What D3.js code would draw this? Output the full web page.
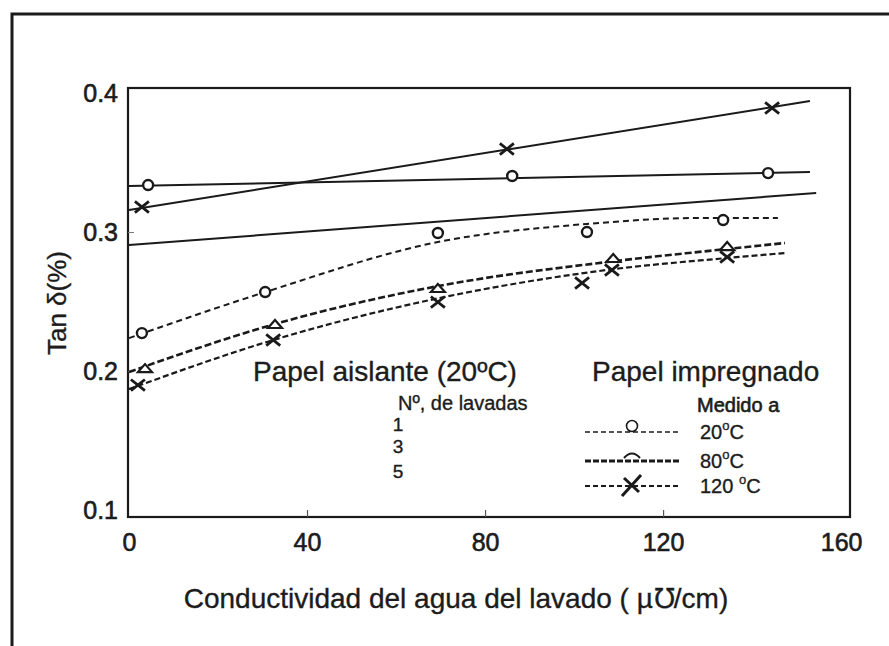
<!DOCTYPE html>
<html>
<head>
<meta charset="utf-8">
<script src="https://cdn.jsdelivr.net/npm/d3@7"></script>
<style>
  body { margin: 0; background: #fff; }
  svg { display: block; }
  text { font-family: "Liberation Sans", Arial, Helvetica, sans-serif; fill: #1c1c1c; }
  .heavy { stroke: #1c1c1c; stroke-width: 0.6px; }
  .medium { stroke: #1c1c1c; stroke-width: 0.35px; }
</style>
</head>
<body>
<svg id="chart" width="889" height="646"></svg>
<script>
// ---- Data: tan δ (%) versus conductivity of the wash water (µ℧/cm) ----

// Papel aislante (20ºC): straight trend lines and their measured points
const aislanteCirculosLinea  = [[0, 0.3331], [153.0, 0.3432]];
const aislanteCirculosPuntos = [[4.3, 0.3338], [86.1, 0.3403], [143.6, 0.3424]];
const aislanteCrucesLinea    = [[0, 0.3158], [153.0, 0.3942]];
const aislanteCrucesPuntos   = [[2.9, 0.3180], [84.9, 0.3597], [144.5, 0.3892]];
const aislanteLisoLinea      = [[0, 0.2906], [154.4, 0.3281]];

// Papel impregnado, medido a 20 / 80 / 120 ºC: fitted curves and measured points
const impregnado20Curva   = [[0, 0.2237], [30.6, 0.2568], [69.4, 0.2928], [102.9, 0.3058], [128.3, 0.3101], [145.8, 0.3101]];
const impregnado20Puntos  = [[2.9, 0.2273], [30.6, 0.2568], [69.4, 0.2993], [102.9, 0.3000], [133.5, 0.3086]];
const impregnado80Curva   = [[0, 0.1993], [32.8, 0.2338], [70.8, 0.2619], [107.4, 0.2784], [134.4, 0.2878], [147.4, 0.2921]];
const impregnado80Puntos  = [[3.6, 0.2014], [32.8, 0.2331], [69.4, 0.2590], [108.8, 0.2806], [134.4, 0.2892]];
const impregnado120Curva  = [[0, 0.1870], [32.4, 0.2223], [70.8, 0.2532], [107.4, 0.2727], [134.4, 0.2813], [147.4, 0.2849]];
const impregnado120Puntos = [[2.0, 0.1899], [32.4, 0.2223], [69.4, 0.2496], [101.8, 0.2633], [108.5, 0.2727], [134.4, 0.2820]];

// Axis ticks
const xTicks = [0, 40, 80, 120, 160];
const yTicks = [0.1, 0.2, 0.3, 0.4];

// Legend texts
const tituloAislante      = "Papel aislante (20ºC)";
const subtituloAislante   = "Nº, de lavadas";
const lavadas             = ["1", "3", "5"];
const tituloImpregnado    = "Papel impregnado";
const subtituloImpregnado = "Medido a";
const temperaturas        = ["20", "80", "120"];

// ---- Drawing ----
const svg = d3.select("#chart");
const box = { left: 128, right: 850, top: 88, bottom: 517 };

const x = d3.scaleLinear().domain([0, 162]).range([129, box.right]);
const y = d3.scaleLinear().domain([0.095, 0.4036]).range([box.bottom, box.top]);

// outer frame of the figure
svg.append("rect")
  .attr("x", 12).attr("y", 14).attr("width", 920).attr("height", 700)
  .attr("fill", "none").attr("stroke", "#1a1a1a").attr("stroke-width", 3);

// plot frame
svg.append("rect")
  .attr("x", box.left).attr("y", box.top)
  .attr("width", box.right - box.left).attr("height", box.bottom - box.top)
  .attr("fill", "none").attr("stroke", "#1a1a1a").attr("stroke-width", 2.2);

// x axis: small inward ticks, labels below
const xAxis = d3.axisBottom(x).tickValues(xTicks).tickSize(-7).tickPadding(16).tickFormat(d3.format("d"));
const gx = svg.append("g").attr("transform", `translate(0,${box.bottom})`).call(xAxis);
gx.select(".domain").remove();
gx.selectAll(".tick line").attr("stroke", "#555").attr("stroke-width", 1.2)
  .filter(d => d === 0 || d === 160).remove();
gx.selectAll(".tick text").attr("font-size", 25).attr("fill", "#1c1c1c").attr("class", "heavy")
  .attr("font-family", "'Liberation Sans', Arial, sans-serif");

// y axis
const yAxis = d3.axisLeft(y).tickValues(yTicks).tickSize(-6).tickPadding(10).tickFormat(d3.format(".1f"));
const gy = svg.append("g").attr("transform", `translate(${box.left},0)`).call(yAxis);
gy.select(".domain").remove();
gy.selectAll(".tick line").attr("stroke", "#777").attr("stroke-width", 1)
  .filter(d => d === 0.1 || d === 0.4).remove();
gy.selectAll(".tick text").attr("font-size", 25).attr("fill", "#1c1c1c").attr("class", "heavy")
  .attr("font-family", "'Liberation Sans', Arial, sans-serif");

// axis titles
svg.append("text")
  .attr("transform", "translate(66,303) rotate(-90)")
  .attr("text-anchor", "middle").attr("font-size", 26).attr("class", "medium")
  .text("Tan δ(%)");

svg.append("text")
  .attr("x", 456).attr("y", 608)
  .attr("text-anchor", "middle").attr("font-size", 28).attr("class", "medium")
  .text("Conductividad del agua del lavado ( µ℧/cm)");

const line = d3.line().x(d => x(d[0])).y(d => y(d[1]));
const curve = d3.line().x(d => x(d[0])).y(d => y(d[1])).curve(d3.curveMonotoneX);

// solid trend lines (papel aislante)
[aislanteCirculosLinea, aislanteCrucesLinea, aislanteLisoLinea].forEach(s => {
  svg.append("path").datum(s).attr("d", line)
    .attr("fill", "none").attr("stroke", "#1a1a1a").attr("stroke-width", 2);
});

// dashed curves (papel impregnado)
const dashed = [
  { data: impregnado20Curva,  w: 2.0, dash: "6,4" },
  { data: impregnado80Curva,  w: 2.6, dash: "7,3" },
  { data: impregnado120Curva, w: 2.2, dash: "6,3" }
];
dashed.forEach(s => {
  svg.append("path").datum(s.data).attr("d", curve)
    .attr("fill", "none").attr("stroke", "#1a1a1a")
    .attr("stroke-width", s.w).attr("stroke-dasharray", s.dash);
});

// marker helpers
function circles(data) {
  svg.append("g").selectAll("circle").data(data).join("circle")
    .attr("cx", d => x(d[0])).attr("cy", d => y(d[1])).attr("r", 5)
    .attr("fill", "#fff").attr("stroke", "#1a1a1a").attr("stroke-width", 2.4);
}
function crosses(data, s) {
  svg.append("g").selectAll("path").data(data).join("path")
    .attr("d", d => {
      const cx = x(d[0]), cy = y(d[1]);
      return `M${cx - s},${cy - s * 0.8}L${cx + s},${cy + s * 0.8}M${cx - s},${cy + s * 0.8}L${cx + s},${cy - s * 0.8}`;
    })
    .attr("fill", "none").attr("stroke", "#1a1a1a").attr("stroke-width", 2.8);
}
function hats(data) {
  svg.append("g").selectAll("path").data(data).join("path")
    .attr("d", d => {
      const cx = x(d[0]), cy = y(d[1]);
      return `M${cx - 7},${cy + 3}L${cx},${cy - 5}L${cx + 7},${cy + 3}Z`;
    })
    .attr("fill", "#fff").attr("stroke", "#1a1a1a").attr("stroke-width", 2.2);
}

circles(aislanteCirculosPuntos);
crosses(aislanteCrucesPuntos, 7);
circles(impregnado20Puntos);
hats(impregnado80Puntos);
crosses(impregnado120Puntos, 7);

// ---- Legends ----
svg.append("text").attr("x", 253).attr("y", 381).attr("font-size", 28).attr("class", "medium").text(tituloAislante);
svg.append("text").attr("x", 398).attr("y", 410).attr("font-size", 20).attr("class", "medium").text(subtituloAislante);
svg.append("g").selectAll("text").data(lavadas).join("text")
  .attr("x", 398).attr("y", (d, i) => [431, 453, 478][i]).attr("class", "medium")
  .attr("text-anchor", "middle").attr("font-size", 19).text(d => d);

svg.append("text").attr("x", 592).attr("y", 381).attr("font-size", 28).attr("class", "medium").text(tituloImpregnado);
svg.append("text").attr("x", 697).attr("y", 412).attr("font-size", 20).attr("class", "heavy").text(subtituloImpregnado);

const legY = [432, 461, 486];
const legStyle = [
  { w: 1.6, dash: "5,3" },
  { w: 3.0, dash: "6,2" },
  { w: 1.8, dash: "5,3" }
];
temperaturas.forEach((t, i) => {
  const yy = legY[i];
  svg.append("line").attr("x1", 585).attr("x2", 679).attr("y1", yy).attr("y2", yy)
    .attr("stroke", "#1a1a1a").attr("stroke-width", legStyle[i].w)
    .attr("stroke-dasharray", legStyle[i].dash);
  const lab = svg.append("text").attr("x", 700).attr("y", yy + 7).attr("font-size", 20).attr("class", "medium");
  lab.append("tspan").text(t + (i === 2 ? " " : ""));
  lab.append("tspan").attr("font-size", 13).attr("dy", -9).text("o");
  lab.append("tspan").attr("dy", 9).text("C");
});
// legend markers
svg.append("circle").attr("cx", 632).attr("cy", 426).attr("r", 5.5)
  .attr("fill", "#fff").attr("stroke", "#1a1a1a").attr("stroke-width", 1.6);
svg.append("path").attr("d", "M624,458 Q632,449 640,458")
  .attr("fill", "none").attr("stroke", "#1a1a1a").attr("stroke-width", 2);
svg.append("path").attr("d", "M622,496 L641,475 M624,478 L639,492")
  .attr("fill", "none").attr("stroke", "#1a1a1a").attr("stroke-width", 3);
</script>
</body>
</html>
